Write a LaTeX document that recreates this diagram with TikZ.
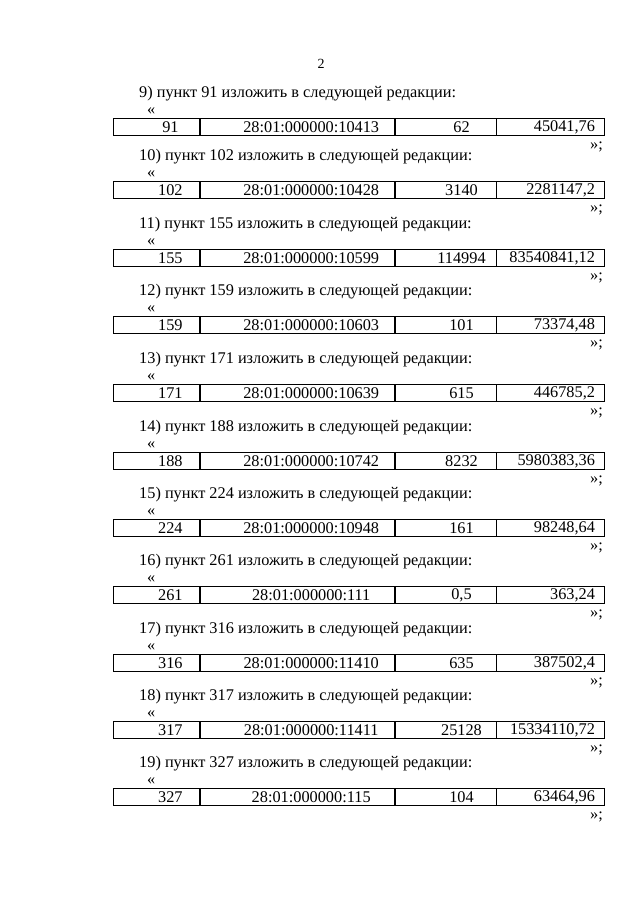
\documentclass[tikz,border=0pt]{standalone}
\usepackage{fontspec}
\setmainfont{Liberation Serif}
\usetikzlibrary{positioning}

\tikzset{
  cell/.style={rectangle, draw, line width=0.8pt, minimum height=17pt, inner sep=0pt},
  line/.style={font=\fontsize{16.3}{18}\selectfont, inner sep=0pt},
}

\begin{document}
\begin{tikzpicture}[x=1pt, y=-1pt]
    \useasboundingbox (0,0) rectangle (640,905);

    % Page number
    \node[font=\fontsize{14}{16}\selectfont, inner sep=0pt] (page) at (321,64) {2};

    % Items
    \foreach \n/\k/\cad/\ar/\val/\y in {
        9/91/10413/62/{45041,76}/127,
        10/102/10428/3140/{2281147,2}/190,
        11/155/10599/114994/{83540841,12}/258,
        12/159/10603/101/{73374,48}/325,
        13/171/10639/615/{446785,2}/393,
        14/188/10742/8232/{5980383,36}/461,
        15/224/10948/161/{98248,64}/528,
        16/261/111/{0,5}/{363,24}/595,
        17/316/11410/635/{387502,4}/663,
        18/317/11411/25128/{15334110,72}/730,
        19/327/115/104/{63464,96}/797} {
        % Heading
        \node[line, anchor=west] (head\n) at (139,\y-33) {\n) пункт \k{} изложить в следующей редакции:};
        \node[line, anchor=west] (open\n) at (147,\y-16) {«};
        % Cells
        \node[cell, minimum width=86pt, anchor=west] (num\n) at (113,\y) {};
        \node[cell, minimum width=194pt, right=0pt of num\n] (cad\n) {};
        \node[cell, minimum width=101pt, right=0pt of cad\n] (area\n) {};
        \node[cell, minimum width=108pt, right=0pt of area\n] (cost\n) {};
        % Entries
        \node[line] (numtext\n) at ([xshift=14pt]num\n.center) {\k};
        \node[line] (cadtext\n) at ([xshift=14pt]cad\n.center) {28:01:000000:\cad};
        \node[line] (artext\n) at ([xshift=16pt]area\n.center) {\ar};
        \node[line, anchor=east] (valtext\n) at ([xshift=-10pt]cost\n.east) {\val};
        \node[line, anchor=east] (close\n) at (603,\y+20) {»;};
    }
\end{tikzpicture}
\end{document}
